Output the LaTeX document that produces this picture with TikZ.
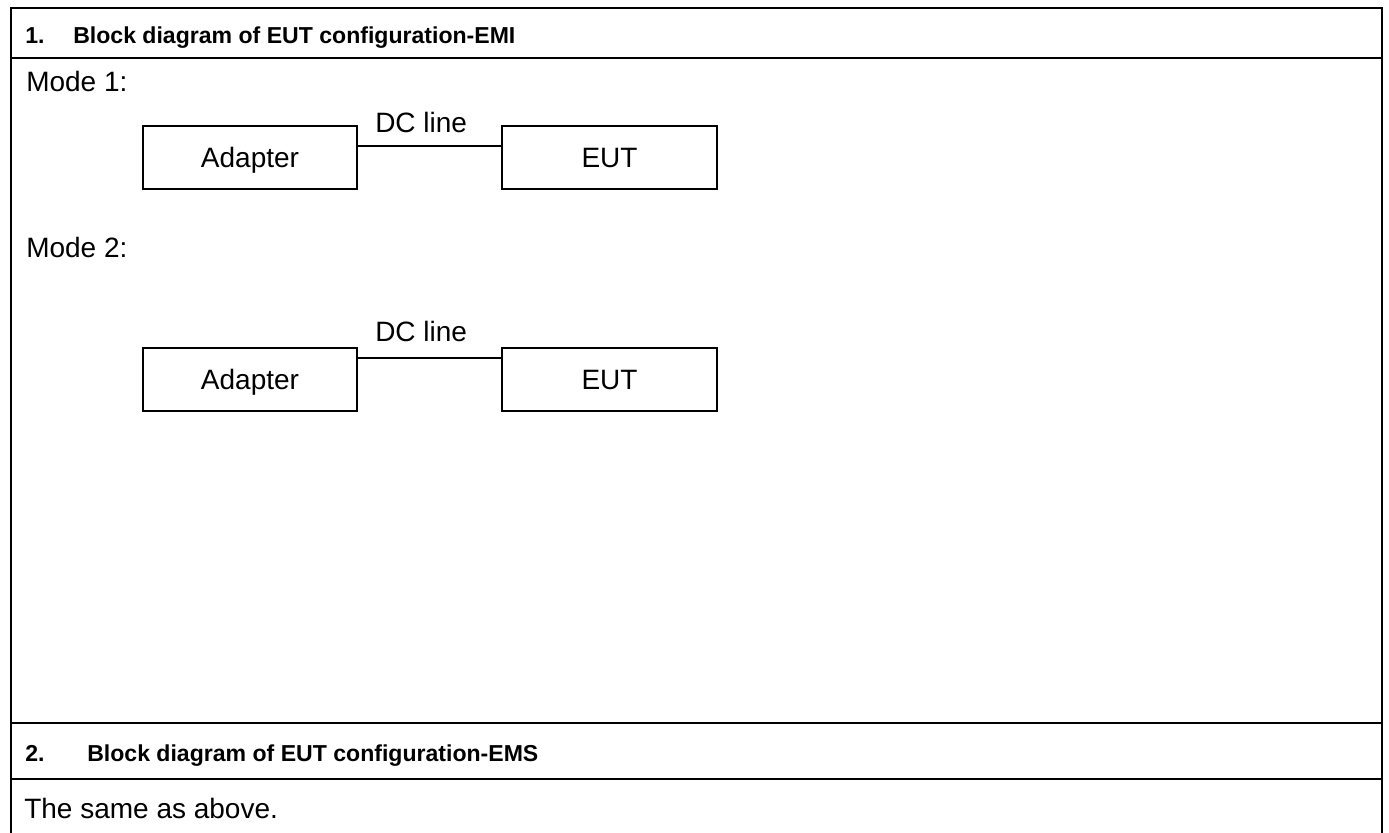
\documentclass[tikz,border=0pt]{standalone}
\usepackage{fontspec}
\setmainfont{Liberation Sans}
\begin{document}
\begin{tikzpicture}[x=0.75pt,y=-0.75pt,
  rule/.style={line width=1.9pt, line cap=rect},
  unitbox/.style={draw, line width=1.4pt, minimum width=161pt, minimum height=47.25pt,
    inner sep=0pt, text height=15pt, text depth=0pt, font=\fontsize{21}{25}\selectfont},
  wire/.style={line width=1.1pt},
  body/.style={anchor=base west, inner sep=0pt, font=\fontsize{21}{25}\selectfont},
  head/.style={anchor=base west, inner sep=0pt, font=\fontsize{17.3}{21}\selectfont\bfseries}]
\useasboundingbox[fill=white] (0,0) rectangle (1389,832);

% table frame and row separators
\draw[rule] (11,840) -- (11,8) -- (1382,8) -- (1382,840);
\draw[rule] (11,58) -- (1382,58);
\draw[rule] (11,723) -- (1382,723);
\draw[rule] (11,779) -- (1382,779);

% section headings
\node[head] (h1n) at (25,43) {1.};
\node[head] (h1t) at (73,43) {Block diagram of EUT configuration-EMI};
\node[head] (h2n) at (25,761) {2.};
\node[head] (h2t) at (87,761) {Block diagram of EUT configuration-EMS};

% mode labels and remark
\node[body] (m1) at (26,91) {Mode 1:};
\node[body] (m2) at (26,257) {Mode 2:};
\node[body] (same) at (24,818) {The same as above.};

% Mode 1 setup
\node[unitbox] (a1) at (250,157.5) {Adapter};
\node[unitbox] (e1) at (609.5,157.5) {EUT};
\draw[wire] ([yshift=-15.75pt]a1.north east) -- ([yshift=-15.75pt]e1.north west);
\node[body] (l1) at (375,132) {DC line};

% Mode 2 setup
\node[unitbox] (a2) at (250,379.5) {Adapter};
\node[unitbox] (e2) at (609.5,379.5) {EUT};
\draw[wire] ([yshift=-8.25pt]a2.north east) -- ([yshift=-8.25pt]e2.north west);
\node[body] (l2) at (375,341) {DC line};
\end{tikzpicture}
\end{document}
